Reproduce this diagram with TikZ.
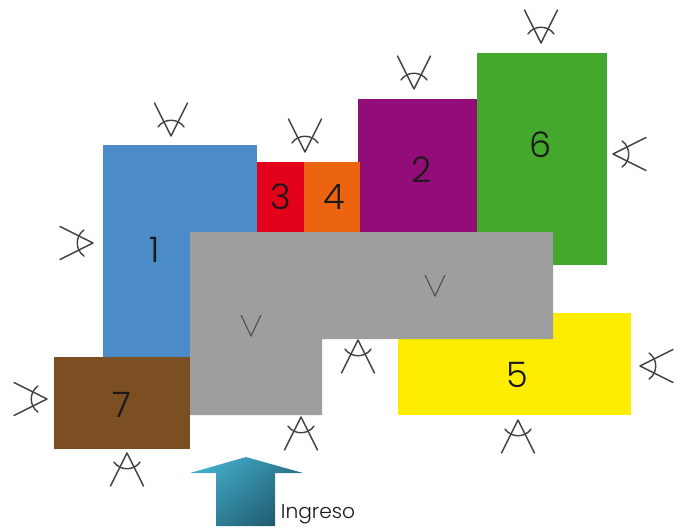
\documentclass[tikz,border=0pt]{standalone}
\usepackage{fontspec}
\setmainfont{Poppins Light}
\definecolor{roomone}{HTML}{4A8BC8}
\definecolor{roomtwo}{HTML}{920D78}
\definecolor{roomthree}{HTML}{E2001A}
\definecolor{roomfour}{HTML}{EC6410}
\definecolor{roomfive}{HTML}{FFED00}
\definecolor{roomsix}{HTML}{43A82C}
\definecolor{roomseven}{HTML}{7B4F22}
\definecolor{hall}{HTML}{9E9E9E}
\definecolor{inlight}{HTML}{42ABC8}
\definecolor{indark}{HTML}{1F5A6E}
\tikzset{
  room/.style={font=\fontsize{20}{20}\selectfont, text=black!90},
  viewline/.style={draw=black!75, line width=0.8pt, line cap=round, line join=round},
  eye/.pic={
    \draw[viewline] (-16.5,-33)--(0,0)--(16.5,-33);
    \draw[viewline] (-13,-9) .. controls (-7,-18) and (7,-18) .. (13,-9);
  },
  vmark/.pic={
    \draw[draw=black!70, line width=0.6pt] (-10,-21)--(0,0)--(10,-21);
  }
}
\begin{document}
\begin{tikzpicture}[x=0.02cm,y=-0.02cm]
  \useasboundingbox (0,0) rectangle (679,529);
  \fill[roomone] (103,145) rectangle (257,357);
  \fill[roomthree] (257,162) rectangle (304,233);
  \fill[roomtwo] (358,99) rectangle (477,233);
  \fill[roomfour] (304,162) rectangle (360,233);
  \fill[roomsix] (477,53) rectangle (607,265);
  \fill[roomfive] (398,313) rectangle (631,415);
  \fill[roomseven] (54,357) rectangle (190,449);
  \fill[hall] (190,232)--(553,232)--(553,339)--(322,339)--(322,415)--(190,415)--cycle;
  \shade[left color=inlight, right color=indark, shading angle=40]
    (190,473)--(246,457)--(303,473)--(275,473)--(275,526)--(216,526)--(216,473)--cycle;
  \node[room] (r1) at (155,250) {1};
  \node[room] (r2) at (422,170) {2};
  \node[room] (r3) at (281,197) {3};
  \node[room] (r4) at (334,197) {4};
  \node[room] (r5) at (517,375) {5};
  \node[room] (r6) at (541,145) {6};
  \node[room] (r7) at (122,405) {7};
  \node[font=\fontsize{11.5}{12}\selectfont, text=black!90] (ingreso) at (318,514) {Ingreso};
  % tips pointing down
  \pic at (171,136) {eye};
  \pic at (305,152) {eye};
  \pic at (414,89) {eye};
  \pic at (541,43) {eye};
  % tips pointing up
  \pic[rotate=180] at (127,453) {eye};
  \pic[rotate=180] at (301,417) {eye};
  \pic[rotate=180] at (358,340) {eye};
  \pic[rotate=180] at (518,420) {eye};
  % tips pointing sideways
  \pic[rotate=90] at (47,399) {eye};
  \pic[rotate=90] at (93,243) {eye};
  \pic[rotate=-90] at (613,154) {eye};
  \pic[rotate=-90] at (640,366) {eye};
  \pic at (435,296) {vmark};
  \pic at (251,336) {vmark};
\end{tikzpicture}
\end{document}
